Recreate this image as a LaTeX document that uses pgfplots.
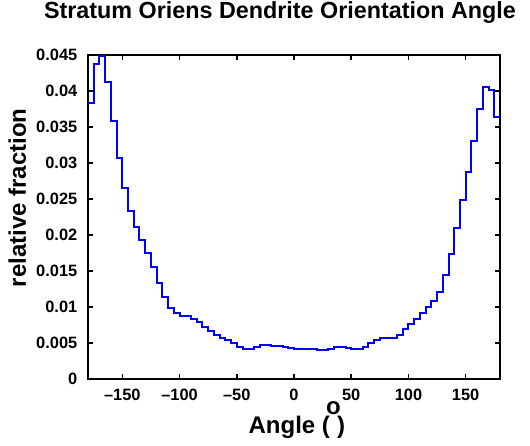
\documentclass[border=0pt]{standalone}
\usepackage{pgfplots}
\pgfplotsset{compat=1.18}
\usepackage{fontspec}
\setmainfont{Liberation Sans}
\begin{document}
\begin{tikzpicture}
\path[use as bounding box] (-66pt,-49.5pt) rectangle (331.5pt,284.25pt);
\begin{axis}[
  width=309pt, height=243pt, scale only axis,
  xmin=-180, xmax=180, ymin=0, ymax=0.045,
  xtick={-150,-100,-50,0,50,100,150},
  xticklabels={--150,--100,--50,0,50,100,150},
  ytick={0,0.005,0.01,0.015,0.02,0.025,0.03,0.035,0.04,0.045},
  yticklabels={0,0.005,0.01,0.015,0.02,0.025,0.03,0.035,0.04,0.045},
  scaled y ticks=false,
  tick align=inside,
  major tick length=4pt,
  axis line style={line width=1.2pt},
  every tick/.style={black, line width=1.2pt},
  tick label style={font=\fontsize{12.3pt}{14pt}\selectfont\bfseries},
  yticklabel style={xshift=-4.5pt},
  xticklabel style={yshift=-4pt},
  /pgf/number format/assume math mode=true,
  title={Stratum Oriens Dendrite Orientation Angle},
  title style={font=\fontsize{17.5pt}{20pt}\selectfont\bfseries, at={(axis description cs:0.466,1)}, anchor=base, yshift=21.5pt},
  ylabel={relative fraction},
  ylabel style={font=\fontsize{18pt}{20pt}\selectfont\bfseries, at={(axis description cs:-0.1715,0.559)}, anchor=center, rotate=0},
  xlabel={Angle (\makebox[0.3em][c]{\raisebox{0.8em}{o}})},
  xlabel style={font=\fontsize{18pt}{20pt}\selectfont\bfseries, at={(axis description cs:0.507,0)}, anchor=base, yshift=-41pt},
]
\addplot[const plot, color=blue, line width=1.5pt] coordinates {
(-180,0.0384) (-175,0.0438) (-170,0.0448) (-165,0.0413) (-160,0.0359) (-155,0.0307)
(-150,0.0265) (-145,0.0234) (-140,0.0211) (-135,0.0193) (-130,0.0175) (-125,0.0155)
(-120,0.0133) (-115,0.0114) (-110,0.0099) (-105,0.0091) (-100,0.0088) (-95,0.0087)
(-90,0.0084) (-85,0.0079) (-80,0.0072) (-75,0.0066) (-70,0.0061) (-65,0.0057)
(-60,0.0054) (-55,0.0050) (-50,0.0045) (-45,0.0041) (-40,0.0041) (-35,0.0044)
(-30,0.0047) (-25,0.0047) (-20,0.0046) (-15,0.0046) (-10,0.0044) (-5,0.0043)
(0,0.0041) (5,0.0041) (10,0.0041) (15,0.0041) (20,0.0040) (25,0.0040)
(30,0.0042) (35,0.0044) (40,0.0044) (45,0.0043) (50,0.0041) (55,0.0041)
(60,0.0044) (65,0.0050) (70,0.0054) (75,0.0057) (80,0.0057) (85,0.0057)
(90,0.0061) (95,0.0069) (100,0.0077) (105,0.0084) (110,0.0092) (115,0.0100)
(120,0.0109) (125,0.0121) (130,0.0144) (135,0.0173) (140,0.0210) (145,0.0249)
(150,0.0288) (155,0.0331) (160,0.0375) (165,0.0406) (170,0.0402) (175,0.0364)
(180,0.0364)
};
\end{axis}
\end{tikzpicture}
\end{document}
